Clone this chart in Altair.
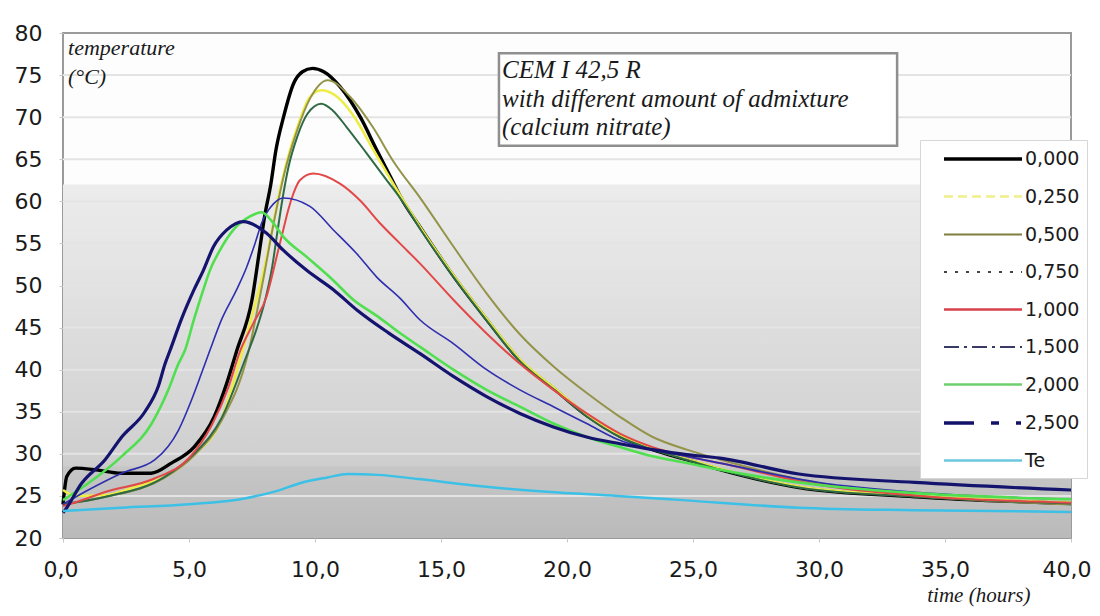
import altair as alt
import pandas as pd

# ---------------- data ----------------
SERIES = ["0,000", "0,250", "0,500", "0,750", "1,000", "1,500", "2,000", "2,500", "Te"]
COLORS = ["#000000", "#eded45", "#93934a", "#2f6a45", "#e24848", "#2e2eae", "#4fdf4f", "#14146e", "#3cc0e6"]
WIDTHS = [3.4, 2.6, 2.0, 2.0, 2.0, 1.6, 2.6, 3.2, 2.5]
LEGEND_COLORS = ["#000000", "#f0f08a", "#7f7f3e", "#444444", "#d8404c", "#3a3a66", "#6fcf6f", "#12126a", "#6cc8e0"]
LEGEND_WIDTHS = [3.4, 2.6, 2.2, 1.8, 2.4, 1.8, 2.6, 3.4, 2.4]
LEGEND_DASHES = [[1, 0], [9, 5], [1, 0], [3, 8], [1, 0], [15, 5, 3, 5], [1, 0], [30, 17, 8, 17, 5, 17], [1, 0]]

Y_TICKS = [20, 25, 30, 35, 40, 45, 50, 55, 60, 65, 70, 75, 80]
X_TICKS = [0, 5, 10, 15, 20, 25, 30, 35, 40]
GRID_VALUES = [25, 30, 35, 40, 45, 50, 55, 60, 65, 70, 75]

# common tail of the 0,000 / 0,250 / 0,750 cluster
CLUSTER_T = [14.2, 15.5, 16.8, 18.1, 19.5, 20.8, 22.1, 23.4, 24.75, 26.1, 29.2, 33.8, 40]
CLUSTER_V = [56.6, 51.0, 45.9, 41.1, 37.6, 34.4, 32.0, 30.5, 29.3, 28.1, 26.0, 24.9, 24.1]

T_000 = [0, 0.15, 0.5, 1.3, 2.3, 3.5, 4.3, 5.2, 6.0, 6.5, 6.9, 7.5, 7.8, 8.0, 8.25, 8.45, 8.75, 9.15,
         9.5, 9.9, 10.35, 11.0, 11.8, 12.45, 13.0, 13.4, 14.2, 15.5, 16.8, 18.1, 19.5, 20.8, 22.1,
         23.4, 24.75, 26.1, 29.2, 33.8, 40]
V_000 = [24.0, 27.3, 28.3, 28.1, 27.7, 27.7, 28.9, 30.8, 34.4, 38.4, 42.3, 48.3, 54.2, 58.2, 62.1, 66.1,
         70.0, 74.0, 75.4, 75.8, 75.4, 73.6, 70.0, 66.1, 62.9, 60.5, 56.8, 51.1, 46.0, 41.2, 37.7, 34.5,
         32.1, 30.5, 29.3, 28.1, 26.0, 24.9, 24.1]

T_025 = [0, 0.5, 1.7, 3.0, 4.0, 5.2, 6.3, 7.1, 7.6, 8.0, 8.3, 8.55, 8.9, 9.3, 9.8, 10.25, 10.8, 11.5,
         12.3, 13.2, 14.2, 15.5, 16.8, 18.1, 19.5, 20.8, 22.1, 23.4, 24.75, 26.1, 29.2, 33.8, 40]
V_025 = [25.7, 25.0, 25.1, 26.2, 27.2, 29.9, 34.2, 42.0, 47.5, 52.2, 56.6, 60.5, 64.9, 68.8, 72.4, 73.2,
         72.6, 70.3, 66.2, 61.6, 56.8, 51.2, 46.1, 41.3, 37.8, 34.6, 32.2, 30.6, 29.4, 28.2, 26.1, 25.0, 24.2]

T_050 = [0, 1.7, 4.0, 5.2, 6.3, 7.35, 7.9, 8.4, 8.8, 9.3, 9.8, 10.5, 11.4, 12.3, 13.1, 14.2, 15.5,
         16.8, 18.1, 19.5, 20.8, 22.1, 23.4, 24.75, 26.1, 30, 34, 40]
V_050 = [24.0, 24.9, 27.1, 29.8, 34.0, 42.0, 50.0, 58.0, 63.5, 68.5, 72.2, 74.4, 72.4, 68.8, 64.8, 60.3,
         54.6, 49.1, 44.3, 40.3, 37.2, 34.4, 32.0, 30.5, 29.3, 26.5, 25.0, 24.0]

T_075 = [0, 1.7, 4.0, 5.2, 6.3, 7.2, 7.7, 8.0, 8.3, 8.5, 8.7, 8.95, 9.3, 9.7, 10.25, 10.7, 11.26,
         12.05, 12.85, 13.4] + CLUSTER_T
V_075 = [24.0, 24.9, 27.2, 30.0, 34.3, 41.0, 45.0, 48.0, 52.2, 56.2, 60.1, 64.1, 67.7, 70.4, 71.6,
         70.8, 68.8, 65.7, 62.5, 60.3] + CLUSTER_V

T_100 = [0, 0.35, 1.7, 3.65, 5.0, 5.9, 6.55, 7.0, 7.55, 8.08, 8.35, 8.54, 8.74, 8.94, 9.14, 9.4, 9.93,
         10.99, 11.79, 12.58, 13.37, 14.17, 15.49, 16.81, 18.13, 19.46, 20.78, 22.1, 23.4, 24.75, 26.07,
         30, 34, 40]
V_100 = [23.8, 24.1, 25.5, 27.1, 29.5, 33.4, 37.8, 42.0, 45.5, 48.7, 51.8, 54.2, 56.6, 59.0, 60.9, 62.5,
         63.3, 62.1, 60.1, 57.4, 55.0, 52.6, 48.3, 44.3, 40.7, 37.6, 34.8, 32.4, 30.8, 29.7, 28.9, 26.3,
         25.0, 24.2]

T_150 = [0, 1.0, 2.33, 3.65, 4.58, 5.1, 5.5, 5.83, 6.3, 6.89, 7.29, 7.62, 7.88, 8.35, 8.74, 9.8, 10.73,
         11.65, 12.45, 13.37, 14.17, 15.49, 16.81, 18.13, 19.46, 20.78, 22.1, 23.4, 24.75, 26.07, 30, 34, 40]
V_150 = [24.0, 25.7, 27.7, 29.3, 32.8, 36.4, 39.6, 42.3, 46.0, 49.5, 52.2, 55.0, 57.4, 59.7, 60.4, 59.4,
         56.6, 53.8, 51.0, 48.5, 45.9, 43.1, 40.0, 37.6, 35.6, 33.6, 31.6, 30.5, 29.7, 28.9, 26.6, 25.4, 24.6]

T_200 = [0, 1.0, 2.33, 3.52, 4.18, 4.58, 4.84, 5.2, 5.57, 5.83, 6.23, 6.76, 7.42, 7.88, 8.3, 8.74, 9.67,
         10.73, 11.52, 12.5, 13.3, 14.17, 15.49, 16.81, 18.13, 19.46, 20.78, 22.1, 23.4, 24.75, 26.07,
         30, 34, 40]
V_200 = [24.5, 26.5, 29.7, 33.6, 37.6, 40.7, 42.3, 46.0, 49.5, 51.8, 54.2, 56.6, 58.2, 58.7, 57.6, 55.8,
         53.4, 50.6, 48.3, 46.3, 44.5, 42.7, 40.0, 37.6, 35.6, 33.6, 32.0, 30.8, 29.7, 28.9, 28.1, 26.3,
         25.3, 24.6]

T_250 = [0, 0.08, 0.74, 1.67, 2.33, 3.25, 3.78, 4.05, 4.25, 4.7, 5.2, 5.57, 5.97, 6.5, 7.16, 8.08, 8.74,
         9.67, 10.73, 11.7, 12.9, 14.17, 15.49, 16.81, 18.13, 19.46, 20.78, 22.1, 23.4, 24.75, 26.07,
         29.2, 33.8, 40]
V_250 = [23.0, 23.3, 26.5, 29.3, 32.0, 35.0, 38.0, 40.7, 42.3, 46.0, 49.5, 51.8, 54.6, 56.6, 57.6, 56.2,
         54.2, 51.8, 49.5, 47.0, 44.4, 41.9, 39.2, 36.8, 34.8, 33.2, 32.0, 31.2, 30.5, 29.9, 29.5, 27.6,
         26.6, 25.7]

T_TE = [0, 2.3, 5.0, 7.2, 8.5, 9.5, 10.5, 11.3, 12.5, 14.1, 16.9, 19.2, 22.0, 24.6, 29.2, 33.8, 40]
V_TE = [23.2, 23.6, 24.0, 24.7, 25.6, 26.6, 27.2, 27.6, 27.5, 27.0, 26.05, 25.5, 25.0, 24.5, 23.6, 23.3, 23.1]

BOX_LINES = ["CEM I 42,5 R", "with different amount of admixture", "(calcium nitrate)"]
Y_TITLE_LINES = ["temperature", "(°C)"]
X_TITLE = "time (hours)"

# ---------------- build tables ----------------
pairs = [(T_000, V_000), (T_025, V_025), (T_050, V_050), (T_075, V_075), (T_100, V_100),
         (T_150, V_150), (T_200, V_200), (T_250, V_250), (T_TE, V_TE)]
rows = []
for name, (ts, vs) in zip(SERIES, pairs):
    for t, v in zip(ts, vs):
        rows.append({"series": name, "t": t, "v": v})
lines_df = pd.DataFrame(rows)

x_scale = alt.Scale(domain=[0, 40], nice=False, zero=False)
y_scale = alt.Scale(domain=[20, 80], nice=False, zero=False)

legend = alt.Legend(
    title=None, orient="none", legendX=857, legendY=107,
    fillColor="#ffffff", strokeColor="#d6d6d6", padding=7,
    symbolType="M0.5,0H8.3", symbolSize=400,
    labelFont="DejaVu Sans", labelFontSize=19, labelColor="#1a1a1a", labelOffset=74,
    rowPadding=16,
)

x_axis = alt.Axis(
    values=X_TICKS, labelExpr="replace(format(datum.value, '.1f'), '.', ',')",
    labelFlush=True, labelFlushOffset=20,
    title=X_TITLE, titleX=967, titleY=57, titleAlign="right", titleBaseline="middle", titleAngle=0,
    titleFont="Liberation Serif", titleFontStyle="italic", titleFontWeight="normal", titleFontSize=21,
    titleColor="#1a1a1a",
    grid=False, domain=False, tickSize=4, tickColor="#c8c8c8", labelPadding=17,
    labelFont="DejaVu Sans", labelFontSize=22, labelColor="#1a1a1a",
)
y_axis = alt.Axis(
    values=Y_TICKS, title=None, grid=False, domain=False, tickSize=4, tickColor="#c8c8c8",
    labelPadding=17, labelFont="DejaVu Sans", labelFontSize=22, labelColor="#1a1a1a",
)

X = alt.X("t:Q", scale=x_scale, axis=x_axis)
Y = alt.Y("v:Q", scale=y_scale, axis=y_axis)

# background gradient (lower part of the plot)
bg_df = pd.DataFrame({"t": [0], "t2": [40], "v": [62], "v2": [20]})
gradient = {
    "gradient": "linear", "x1": 0, "y1": 0, "x2": 0, "y2": 1,
    "stops": [
        {"offset": 0.0, "color": "#ececec"},
        {"offset": 0.286, "color": "#e2e2e2"},
        {"offset": 0.524, "color": "#d9d9d9"},
        {"offset": 0.762, "color": "#d0d0d0"},
        {"offset": 0.795, "color": "#cdcdcd"},
        {"offset": 0.80, "color": "#c6c6c6"},
        {"offset": 1.0, "color": "#bababa"},
    ],
}
bg = alt.Chart(bg_df).mark_rect(fill=gradient).encode(x=X, x2="t2", y=Y, y2="v2")

grid_df = pd.DataFrame({"v": GRID_VALUES})
grid = alt.Chart(grid_df).mark_rule(color="#e4e4e4", strokeWidth=2).encode(y=Y)

lines = alt.Chart(lines_df).mark_line(interpolate="monotone").encode(
    x=X, y=Y,
    color=alt.Color("series:N", scale=alt.Scale(domain=SERIES, range=COLORS), legend=None),
    strokeWidth=alt.StrokeWidth("series:N", scale=alt.Scale(type="ordinal", domain=SERIES, range=WIDTHS),
                                legend=None),
    detail="series:N",
)

# legend-only layer (filtered to no rows, so nothing is drawn, but its scales give the legend)
legend_layer = alt.Chart(lines_df).mark_line().encode(
    x=X, y=Y,
    color=alt.Color("series:N", scale=alt.Scale(domain=SERIES, range=LEGEND_COLORS), legend=legend),
    strokeDash=alt.StrokeDash("series:N", scale=alt.Scale(domain=SERIES, range=LEGEND_DASHES), legend=legend),
    strokeWidth=alt.StrokeWidth("series:N",
                                scale=alt.Scale(type="ordinal", domain=SERIES, range=LEGEND_WIDTHS),
                                legend=legend),
).transform_filter("datum.t < -1")

box_df = pd.DataFrame({"t": [17.3], "t2": [33.1], "v": [77.6], "v2": [66.6]})
box = alt.Chart(box_df).mark_rect(fill="#ffffff", stroke="#8f8f8f", strokeWidth=2.5).encode(
    x=X, x2="t2", y=Y, y2="v2"
)

box_text_df = pd.DataFrame({"t": [17.42, 17.42, 17.42], "v": [75.55, 72.2, 68.85], "label": BOX_LINES})
box_text = alt.Chart(box_text_df).mark_text(
    align="left", baseline="middle", font="Liberation Serif", fontStyle="italic",
    fontSize=25, color="#1a1a1a",
).encode(x=X, y=Y, text="label:N")

ytitle_df = pd.DataFrame({"t": [0.2, 0.2], "v": [78.2, 74.8], "label": Y_TITLE_LINES})
ytitle = alt.Chart(ytitle_df).mark_text(
    align="left", baseline="middle", font="Liberation Serif", fontStyle="italic",
    fontSize=22, color="#1a1a1a",
).encode(x=X, y=Y, text="label:N")

chart = alt.layer(bg, grid, lines, legend_layer, box, box_text, ytitle).resolve_scale(
    color="independent", strokeDash="independent", strokeWidth="independent"
).properties(
    width=1008, height=505,
    autosize=alt.AutoSizeParams(type="none"),
    padding={"left": 55, "top": 25, "right": 21, "bottom": 70},
    background="#ffffff",
).configure_view(
    fill="#fdfdfd", stroke="#9a9a9a", strokeWidth=2,
)

chart.save("out.html", embed_options={"renderer": "svg", "actions": False})
